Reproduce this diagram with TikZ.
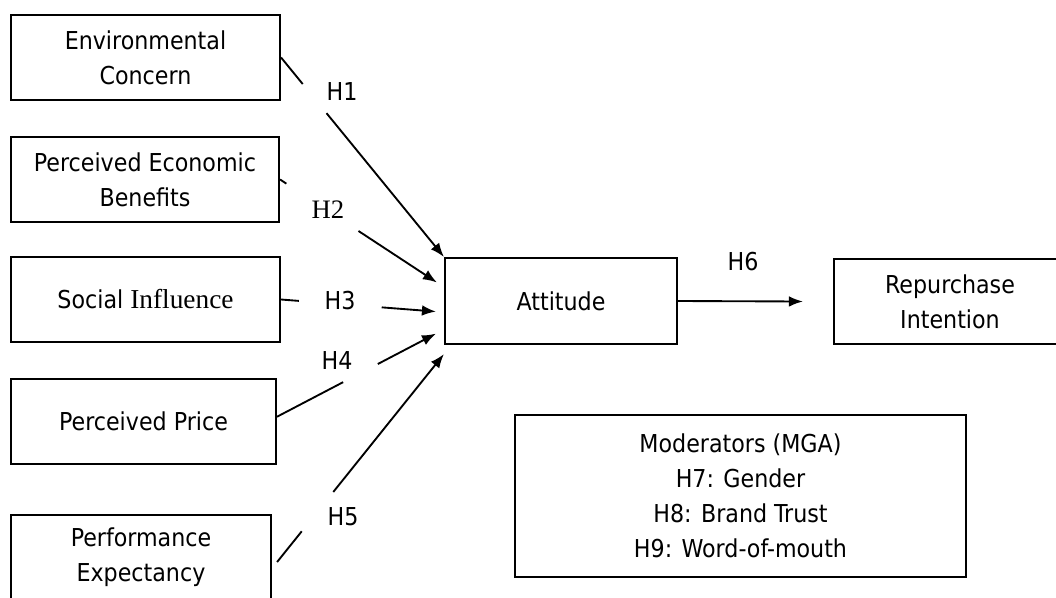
\documentclass[tikz,border=0pt]{standalone}
\usepackage{fontspec}
\setmainfont{DejaVu Sans Condensed}
\newfontfamily\serifpart{Liberation Serif}
\usetikzlibrary{arrows.meta,calc}
\tikzset{
  factor/.style={draw, line width=1.6pt, align=center, inner sep=0pt, minimum height=63.75pt},
  hyp/.style={inner sep=0pt},
  link/.style={line width=1.4pt}
}
\begin{document}
\begin{tikzpicture}[x=0.75pt,y=-0.75pt,>={Latex[length=10.5pt,width=8pt]},
    font=\fontsize{18.5}{26.25}\selectfont]
    \useasboundingbox (0,0) rectangle (1056,597);
    % constructs
    \node[factor, minimum width=201.75pt] (env) at (145.5,57.5) {Environmental\\Concern};
    \node[factor, minimum width=201pt] (peb) at (145,179.5) {Perceived Economic\\Benefits};
    \node[factor, minimum width=201.75pt] (si) at (145.5,299.5) {Social {\serifpart\fontsize{20.5}{26}\selectfont Influence}};
    \node[factor, minimum width=198.75pt] (pp) at (143.5,421.5) {Perceived Price};
    \node[factor, minimum width=195pt] (pe) at (141,557.5) {Performance\\Expectancy};
    \node[factor, minimum width=174pt, minimum height=64.5pt] (att) at (561,301) {Attitude};
    \node[factor, minimum width=174pt] (rep) at (950,301.5) {Repurchase\\Intention};
    \node[factor, minimum width=338.25pt, minimum height=121.5pt] (mod) at (740.5,496)
        {Moderators (MGA)\\H7: Gender\\H8: Brand Trust\\H9: Word-of-mouth};
    % end points
    \coordinate (s4) at ([yshift=3.6pt]pp.east);
    \coordinate (s5) at ([xshift=3.75pt,yshift=-3.4pt]pe.east);
    \coordinate (t2) at ($(att.north west)!0.29!(att.south west)+(-7,0)$);
    \coordinate (t3) at ($(att.north west)!0.62!(att.south west)+(-8,0)$);
    \coordinate (t4) at ($(att.north west)!0.87!(att.south west)+(-8,0)$);
    \coordinate (t5) at ([yshift=-6.75pt]att.south west);
    \coordinate (t6) at ([xshift=-22.5pt]rep.west);
    % paths
    \draw[link] (env.east) -- ($(env.east)!0.133!(att.north west)$);
    \draw[link,->] ($(env.east)!0.279!(att.north west)$) -- (att.north west);
    \draw[link] (peb.east) -- ($(peb.east)!0.04!(t2)$);
    \draw[link,->] ($(peb.east)!0.50!(t2)$) -- (t2);
    \draw[link] (si.east) -- ($(si.east)!0.115!(t3)$);
    \draw[link,->] ($(si.east)!0.65!(t3)$) -- (t3);
    \draw[link] (s4) -- ($(s4)!0.416!(t4)$);
    \draw[link,->] ($(s4)!0.634!(t4)$) -- (t4);
    \draw[link] (s5) -- ($(s5)!0.148!(t5)$);
    \draw[link,->] ($(s5)!0.337!(t5)$) -- (t5);
    \draw[link,->] (att.east) -- (t6);
    % labels
    \node[hyp] (h1) at (342,92) {H1};
    \node[hyp] (h2) at (328,210) {\serifpart\fontsize{20}{26}\selectfont H2};
    \node[hyp] (h3) at (340,301) {H3};
    \node[hyp] (h4) at (337,360) {H4};
    \node[hyp] (h5) at (343,517) {H5};
    \node[hyp] (h6) at (743,262) {H6};
\end{tikzpicture}
\end{document}
